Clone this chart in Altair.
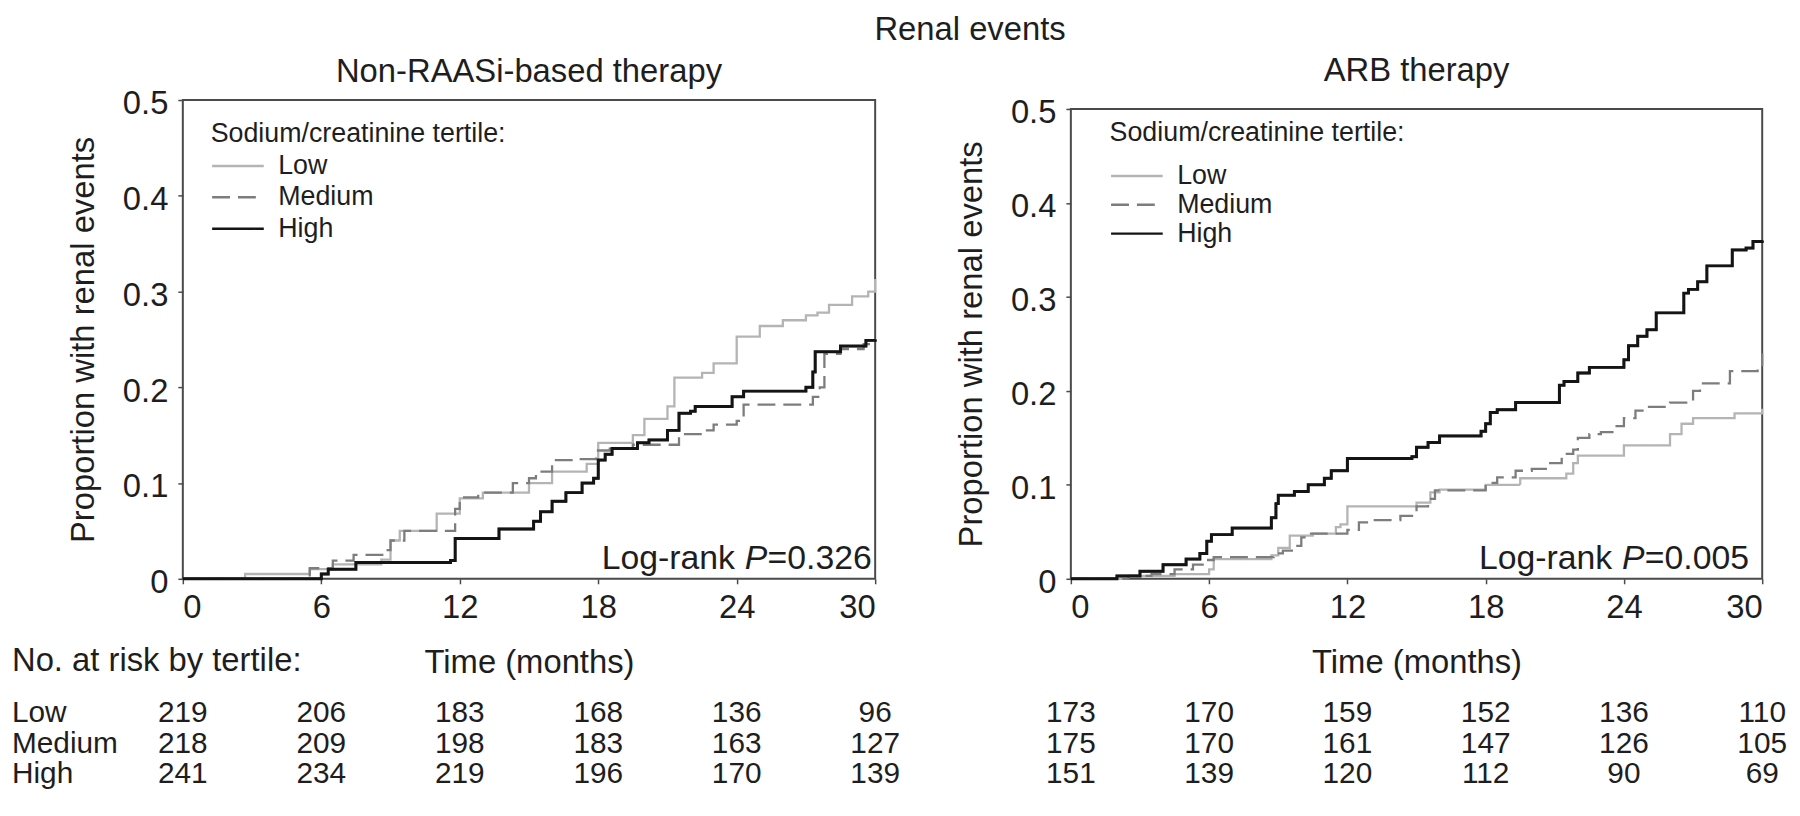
import altair as alt
import pandas as pd

FONT = "Liberation Sans"
TXT = "#1e1e1e"
FRAME = "#4a4a4a"
TERTILES = ["Low", "Medium", "High"]
LINE_COLORS = ["#b4b4b4", "#7d7d7d", "#141414"]
LINE_DASHES = [[1, 0], [18, 8], [1, 0]]
X_TICKS = [0, 6, 12, 18, 24, 30]
Y_TICKS = [0, 0.1, 0.2, 0.3, 0.4, 0.5]
RISK_TIMES = [0, 6, 12, 18, 24, 30]

# ---- Non-RAASi-based therapy: cumulative proportion with renal events ----
non_low_t = [0, 2.7, 5.5, 6.5, 8.6, 9.0, 9.4, 11.0, 12.0, 13.0, 15.0, 16.0, 17.5, 18.0, 19.5, 20.0,
             21.0, 21.3, 22.5, 23.0, 24.0, 25.0, 26.0, 27.0, 27.5, 28.0, 29.0, 29.7, 30.0]
non_low_v = [0, 0.005, 0.01, 0.015, 0.02, 0.04, 0.05, 0.068, 0.084, 0.09, 0.1, 0.112, 0.12, 0.142, 0.15, 0.167,
             0.18, 0.21, 0.215, 0.225, 0.253, 0.264, 0.27, 0.275, 0.278, 0.286, 0.295, 0.3, 0.313]
non_med_t = [0, 5.5, 6.5, 7.4, 8.7, 9.0, 9.6, 11.8, 12.0, 12.8, 14.3, 15.0, 15.3, 16.0, 17.0, 17.9, 18.5,
             19.5, 21.5, 22.5, 23.0, 24.0, 24.3, 27.3, 27.6, 27.8, 28.5, 29.5, 30.0]
non_med_v = [0, 0.011, 0.019, 0.025, 0.03, 0.04, 0.05, 0.073, 0.085, 0.09, 0.1, 0.105, 0.112, 0.124, 0.125, 0.134, 0.136,
             0.14, 0.151, 0.155, 0.161, 0.165, 0.182, 0.19, 0.2, 0.235, 0.24, 0.245, 0.25]
non_high_t = [0, 6.0, 6.3, 7.5, 11.6, 11.8, 13.7, 15.2, 15.5, 16.0, 16.6, 17.3, 17.8, 18.0, 18.3, 18.6, 19.7,
              20.2, 21.0, 21.5, 22.0, 22.2, 23.8, 24.3, 27.0, 27.3, 27.4, 28.5, 29.6, 30.0]
non_high_v = [0, 0.005, 0.01, 0.017, 0.019, 0.042, 0.052, 0.06, 0.07, 0.081, 0.09, 0.1, 0.105, 0.124, 0.13, 0.136, 0.142,
              0.145, 0.155, 0.173, 0.175, 0.18, 0.19, 0.196, 0.2, 0.216, 0.237, 0.243, 0.249, 0.25]

# ---- ARB therapy ----
arb_low_t = [0, 2.2, 4.5, 6.0, 6.2, 8.7, 9.0, 9.5, 10.5, 11.5, 11.7, 12.0, 15.0, 15.6, 16.0, 18.0, 19.5,
             21.5, 21.8, 22.0, 24.0, 26.0, 26.5, 27.0, 28.8, 30.0]
arb_low_v = [0, 0.003, 0.005, 0.01, 0.021, 0.025, 0.033, 0.046, 0.048, 0.055, 0.058, 0.077, 0.081, 0.092, 0.095, 0.1, 0.107,
             0.112, 0.123, 0.131, 0.142, 0.154, 0.165, 0.171, 0.176, 0.181]
arb_med_t = [0, 2.5, 3.5, 4.5, 5.3, 5.8, 6.2, 8.8, 9.2, 9.7, 10.0, 10.3, 12.0, 12.5, 13.0, 14.3, 15.0, 15.5,
             15.8, 18.0, 18.5, 19.3, 20.0, 20.8, 21.3, 21.8, 22.0, 22.5, 23.0, 23.5, 24.0, 24.5, 25.0, 26.0,
             27.0, 27.3, 28.6, 29.8, 30.0]
arb_med_v = [0, 0.003, 0.005, 0.01, 0.015, 0.02, 0.023, 0.027, 0.03, 0.035, 0.044, 0.048, 0.052, 0.06, 0.0625, 0.067, 0.077, 0.085,
             0.094, 0.102, 0.108, 0.115, 0.117, 0.123, 0.133, 0.1375, 0.15, 0.154, 0.156, 0.1625, 0.171, 0.179, 0.183, 0.1875,
             0.2, 0.208, 0.221, 0.225, 0.24]
arb_high_t = [0, 2.0, 3.0, 4.0, 5.0, 5.6, 5.9, 6.1, 7.0, 8.7, 8.9, 9.0, 9.7, 10.3, 11.0, 11.3, 12.0, 14.8, 15.0,
              15.5, 16.0, 17.8, 18.0, 18.2, 18.5, 19.3, 21.2, 21.4, 22.0, 22.5, 24.0, 24.2, 24.6, 25.0, 25.4,
              26.6, 26.8, 27.2, 27.6, 28.7, 29.3, 29.6, 30.0]
arb_high_v = [0, 0.003, 0.008, 0.015, 0.021, 0.027, 0.04, 0.047, 0.054, 0.065, 0.08, 0.089, 0.093, 0.1, 0.107, 0.115, 0.128, 0.13, 0.14,
              0.145, 0.152, 0.157, 0.165, 0.177, 0.18, 0.1875, 0.206, 0.21, 0.219, 0.225, 0.233, 0.248, 0.258, 0.265, 0.283,
              0.304, 0.308, 0.316, 0.333, 0.35, 0.352, 0.359, 0.36]

# ---- numbers at risk ----
non_risk_low = [219, 206, 183, 168, 136, 96]
non_risk_med = [218, 209, 198, 183, 163, 127]
non_risk_high = [241, 234, 219, 196, 170, 139]
arb_risk_low = [173, 170, 159, 152, 136, 110]
arb_risk_med = [175, 170, 161, 147, 126, 105]
arb_risk_high = [151, 139, 120, 112, 90, 69]

# layout
W_LEFT, W_RIGHT, H = 697, 696, 482
ROW_Y = [626, 657, 688]
FS = 33
TFS = 30
LRFS = 34
LFS = 27


def curves_frame(ts_list, vs_list):
    rows = []
    for name, ts, vs in zip(TERTILES, ts_list, vs_list):
        for t, v in zip(ts, vs):
            rows.append({"time": t, "prop": v, "tertile": name})
    return pd.DataFrame(rows)


def panel(curves, risk_rows, subtitle, sub_offset, p_text, lr_t, lr_v, leg_x, leg_y, leg_tpad, leg_rpad,
          width, y_range=None, row_labels=False):
    x_enc = alt.X("time:Q", scale=alt.Scale(domain=[0, 30], nice=False, zero=False),
                  axis=alt.Axis(values=X_TICKS, title="Time (months)", format="d"))
    ys = dict(domain=[0, 0.5], nice=False, zero=True)
    if y_range is not None:
        ys["range"] = y_range
    y_enc = alt.Y("prop:Q", scale=alt.Scale(**ys),
                  axis=alt.Axis(values=Y_TICKS, title="Proportion with renal events",
                                labelExpr="datum.value == 0 ? '0' : format(datum.value, '.1f')"))
    legend = alt.Legend(title="Sodium/creatinine tertile:", orient="none", legendX=leg_x, legendY=leg_y,
                        symbolType="M-1.2,0H4", symbolSize=400, symbolStrokeWidth=2.5,
                        labelOffset=41, titleFontSize=LFS, labelFontSize=LFS, titleFont=FONT, labelFont=FONT,
                        titleFontWeight="normal", titleColor=TXT, labelColor=TXT,
                        titlePadding=leg_tpad, rowPadding=leg_rpad, padding=0,
                        titleLimit=600, labelLimit=300)
    one = pd.DataFrame({"k": [0]})
    frame = alt.Chart(one).mark_rect(fillOpacity=0, stroke=FRAME, strokeWidth=2).encode(
        x=alt.datum(0), x2=alt.datum(30), y=alt.datum(0), y2=alt.datum(0.5))
    lines = alt.Chart(curves).mark_line(interpolate="step-after", strokeWidth=2.3).encode(
        x=x_enc, y=y_enc,
        color=alt.Color("tertile:N", scale=alt.Scale(domain=TERTILES, range=LINE_COLORS), legend=legend),
        strokeDash=alt.StrokeDash("tertile:N", scale=alt.Scale(domain=TERTILES, range=LINE_DASHES), legend=legend),
    )
    high = alt.Chart(curves).transform_filter(alt.datum.tertile == "High").mark_line(
        interpolate="step-after", strokeWidth=3, color=LINE_COLORS[2]).encode(x="time:Q", y="prop:Q")
    lr_base = dict(align="left", baseline="alphabetic", fontSize=LRFS, font=FONT, color=TXT)
    lr1 = alt.Chart(one).mark_text(**lr_base).encode(x=alt.datum(lr_t), y=alt.datum(lr_v), text=alt.value("Log-rank"))
    lr2 = alt.Chart(one).mark_text(fontStyle="italic", dx=144, **lr_base).encode(
        x=alt.datum(lr_t), y=alt.datum(lr_v), text=alt.value("P"))
    lr3 = alt.Chart(one).mark_text(dx=167, **lr_base).encode(
        x=alt.datum(lr_t), y=alt.datum(lr_v), text=alt.value(p_text))
    layers = [frame, lines, high, lr1, lr2, lr3]
    for i, name in enumerate(TERTILES):
        df = pd.DataFrame({"time": RISK_TIMES, "n": risk_rows[i]})
        layers.append(alt.Chart(df).mark_text(align="center", baseline="alphabetic", fontSize=TFS,
                                              font=FONT, color=TXT).encode(
            x="time:Q", y=alt.value(ROW_Y[i]), text="n:Q"))
        if row_labels:
            layers.append(alt.Chart(pd.DataFrame({"label": [name]})).mark_text(
                align="left", baseline="alphabetic", fontSize=TFS, font=FONT, color=TXT).encode(
                x=alt.value(-172), y=alt.value(ROW_Y[i]), text="label:N"))
    if row_labels:
        layers.append(alt.Chart(one).mark_text(align="left", baseline="alphabetic", fontSize=FS,
                                               font=FONT, color=TXT).encode(
            x=alt.value(-172), y=alt.value(575), text=alt.value("No. at risk by tertile:")))
    return alt.layer(*layers).properties(
        width=width, height=H,
        title=alt.TitleParams(subtitle, fontSize=FS, font=FONT, fontWeight="normal", color=TXT,
                              anchor="middle", offset=sub_offset))


left = panel(curves_frame([non_low_t, non_med_t, non_high_t], [non_low_v, non_med_v, non_high_v]),
             [non_risk_low, non_risk_med, non_risk_high], "Non-RAASi-based therapy", -1, "=0.326",
             18.15, 0.0104, 28, 21, 5, 3.5, W_LEFT, row_labels=True)
right = panel(curves_frame([arb_low_t, arb_med_t, arb_high_t], [arb_low_v, arb_med_v, arb_high_v]),
              [arb_risk_low, arb_risk_med, arb_risk_high], "ARB therapy", 9, "=0.005",
              17.71, 0.0106, 39, 20, 16, 1, W_RIGHT, y_range=[H, 9])

chart = alt.hconcat(left, right, spacing=197, bounds="flush",
                    title=alt.TitleParams("Renal events", fontSize=FS, font=FONT, fontWeight="normal",
                                          color=TXT, anchor="middle", offset=8, dx=71)).resolve_scale(
    color="independent", strokeDash="independent").resolve_legend(
    color="independent", strokeDash="independent").configure_view(strokeOpacity=0).configure_axis(
    domain=False, grid=False, ticks=True, tickSize=5, tickWidth=1.5, tickColor=FRAME,
    labelFont=FONT, labelFontSize=FS, labelColor=TXT, titleFont=FONT, titleFontSize=FS,
    titleFontWeight="normal", titleColor=TXT, labelPadding=10
).configure_axisX(labelPadding=8, titlePadding=22).configure_axisY(titlePadding=22, labelOffset=4).properties(
    padding={"left": 4, "right": 4, "top": 4, "bottom": 0})

chart.save("out.html", embed_options={"renderer": "svg", "actions": False})
